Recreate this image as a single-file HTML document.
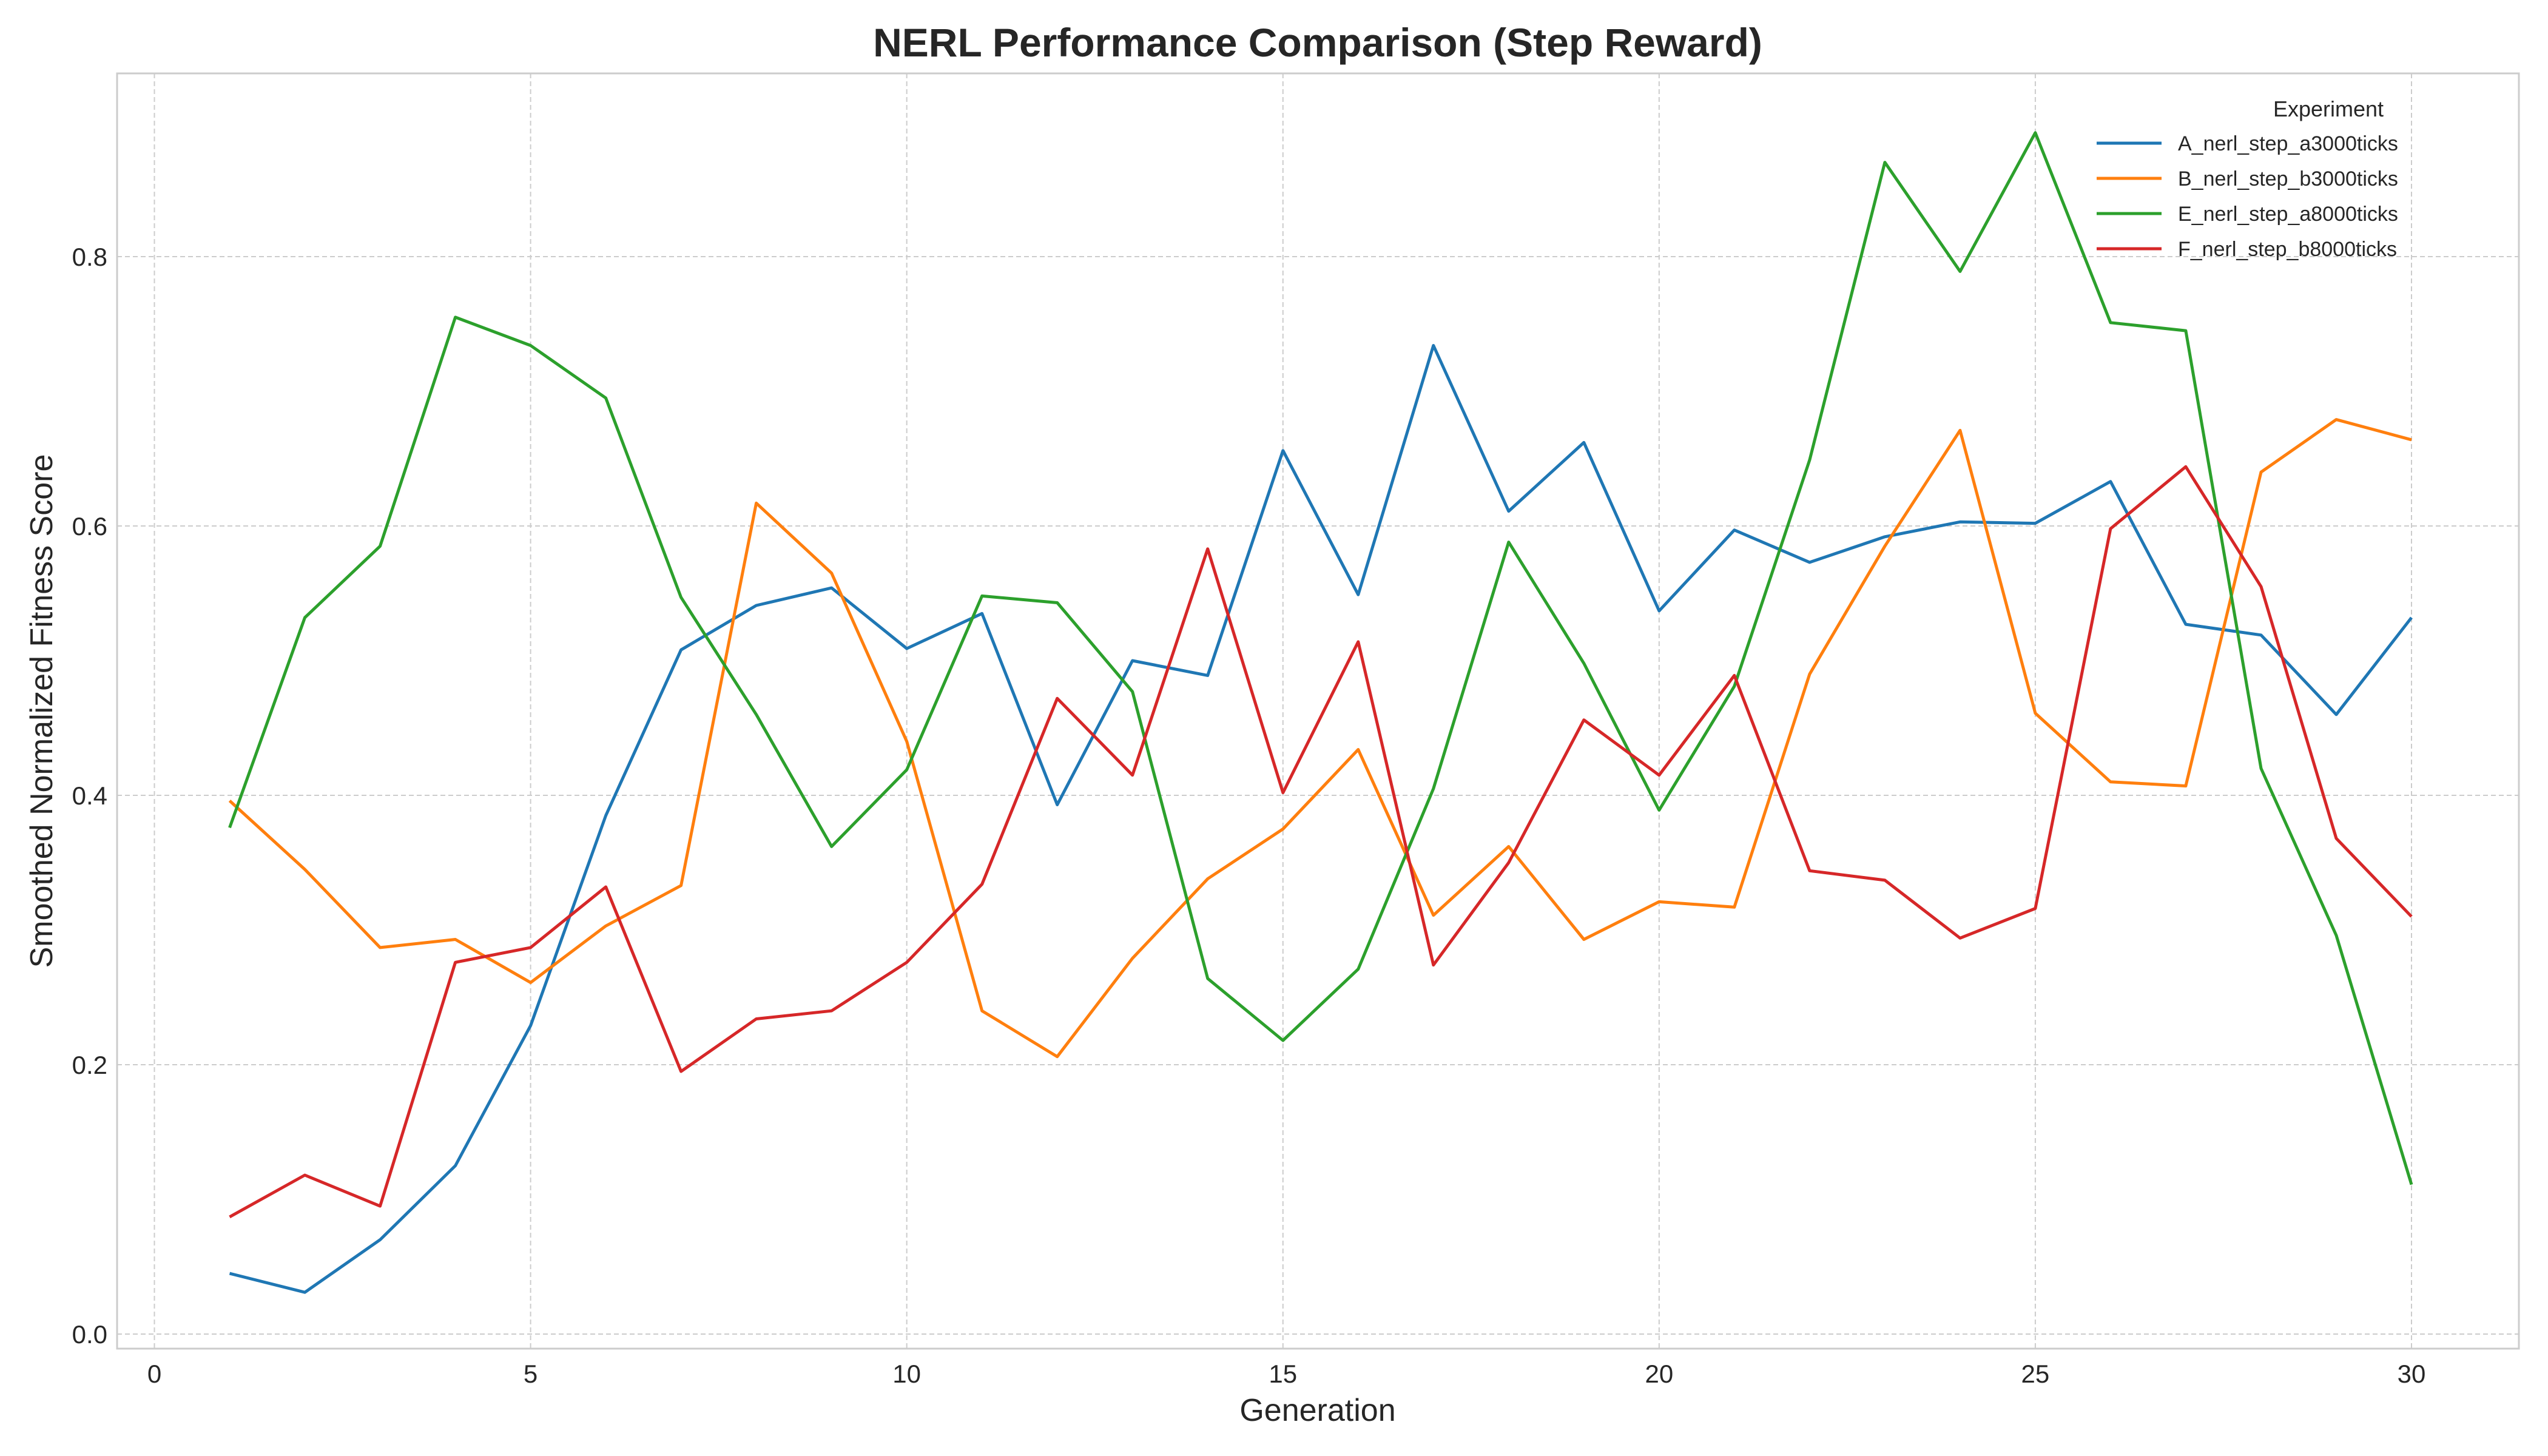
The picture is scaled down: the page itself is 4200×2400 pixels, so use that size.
<!DOCTYPE html>
<html><head><meta charset="utf-8"><style>
html,body{margin:0;padding:0;background:#fff}
svg{display:block;font-family:"Liberation Sans","DejaVu Sans",sans-serif}
</style></head><body>
<svg id="chart" width="4200" height="2400" viewBox="0 0 4200 2400" xmlns="http://www.w3.org/2000/svg">
<rect x="0" y="0" width="4200" height="2400" fill="#fff"/>
<g id="grid"></g>
<g id="series"></g>
<rect x="193" y="121" width="3959" height="2102" fill="none" stroke="#cccccc" stroke-width="3"/>
<g id="xticks"></g>
<g id="yticks"></g>
<text x="2172" y="93" text-anchor="middle" font-size="66" font-weight="bold" fill="#262626">NERL Performance Comparison (Step Reward)</text>
<text x="2172" y="2342" text-anchor="middle" font-size="52" fill="#262626">Generation</text>
<text x="0" y="0" transform="translate(86,1172) rotate(-90)" text-anchor="middle" font-size="52" fill="#262626">Smoothed Normalized Fitness Score</text>
<g id="legend">
<text x="3838" y="192" text-anchor="middle" font-size="36" fill="#262626">Experiment</text>
</g>
</svg>
<script>
const generations = [1,2,3,4,5,6,7,8,9,10,11,12,13,14,15,16,17,18,19,20,21,22,23,24,25,26,27,28,29,30];
const seriesNames = ["A_nerl_step_a3000ticks","B_nerl_step_b3000ticks","E_nerl_step_a8000ticks","F_nerl_step_b8000ticks"];
const seriesA = [0.045,0.031,0.07,0.125,0.229,0.385,0.508,0.541,0.554,0.509,0.535,0.393,0.5,0.489,0.656,0.549,0.734,0.611,0.662,0.537,0.597,0.573,0.592,0.603,0.602,0.633,0.527,0.519,0.46,0.532];
const seriesB = [0.396,0.345,0.287,0.293,0.261,0.303,0.333,0.617,0.565,0.44,0.24,0.206,0.279,0.338,0.375,0.434,0.311,0.362,0.293,0.321,0.317,0.49,0.585,0.671,0.461,0.41,0.407,0.64,0.679,0.664];
const seriesE = [0.376,0.532,0.585,0.755,0.734,0.695,0.547,0.46,0.362,0.419,0.548,0.543,0.477,0.264,0.218,0.271,0.405,0.588,0.498,0.389,0.481,0.649,0.87,0.789,0.892,0.751,0.745,0.42,0.296,0.111];
const seriesF = [0.087,0.118,0.095,0.276,0.287,0.332,0.195,0.234,0.24,0.276,0.334,0.472,0.415,0.583,0.402,0.514,0.274,0.35,0.456,0.415,0.489,0.344,0.337,0.294,0.316,0.598,0.644,0.555,0.368,0.31];
const xTicks = [0,5,10,15,20,25,30];
const yTicks = [0.0,0.2,0.4,0.6,0.8];
const yTickLabels = ["0.0","0.2","0.4","0.6","0.8"];
const colors = ["#1f77b4","#ff7f0e","#2ca02c","#d62728"];

const NS = "http://www.w3.org/2000/svg";
const X0 = 254.5, X1 = 3975, PL = 193, PR = 4152, PT = 121, PB = 2223;
const Y0 = 2199, Y08 = 423;
function xs(v){ return X0 + (X1 - X0) * v / 30; }
function ys(v){ return Y0 + (Y08 - Y0) * v / 0.8; }
function mk(tag, attrs, parent){ const e = document.createElementNS(NS, tag); for (const k in attrs) e.setAttribute(k, attrs[k]); parent.appendChild(e); return e; }

const grid = document.getElementById('grid');
const xt = document.getElementById('xticks');
const yt = document.getElementById('yticks');
xTicks.forEach(t => {
  const l = mk('line', {x1: xs(t), x2: xs(t), y1: PT, y2: PB, stroke: '#cccccc', 'stroke-width': 2, 'stroke-dasharray': '8,5'}, grid);
  
  
  const tx = mk('text', {x: xs(t), y: PB + 56, 'text-anchor': 'middle', 'font-size': 42, fill: '#262626'}, xt);
  tx.textContent = String(t);
  
  
});
yTicks.forEach((t, i) => {
  const l = mk('line', {x1: PL, x2: PR, y1: ys(t), y2: ys(t), stroke: '#cccccc', 'stroke-width': 2, 'stroke-dasharray': '8,5'}, grid);
  
  
  const tx = mk('text', {x: PL - 16, y: ys(t) + 15, 'text-anchor': 'end', 'font-size': 42, fill: '#262626'}, yt);
  tx.textContent = yTickLabels[i];
  
  
});

const sg = document.getElementById('series');
const lg = document.getElementById('legend');
[seriesA, seriesB, seriesE, seriesF].forEach((vals, i) => {
  const pts = vals.map((v, j) => xs(generations[j]).toFixed(1) + ',' + ys(v).toFixed(1)).join(' ');
  const p = mk('polyline', {points: pts, fill: 'none', stroke: colors[i], 'stroke-width': 5, 'stroke-linejoin': 'round'}, sg);
  
  
  const ly = 236 + i * 58;
  const ll = mk('line', {x1: 3456, x2: 3563, y1: ly, y2: ly, stroke: colors[i], 'stroke-width': 5}, lg);
  
  
  const lt = mk('text', {x: 3590, y: ly + 12, 'font-size': 34, fill: '#262626'}, lg);
  lt.textContent = seriesNames[i];
  
  
});
</script>
</body></html>
